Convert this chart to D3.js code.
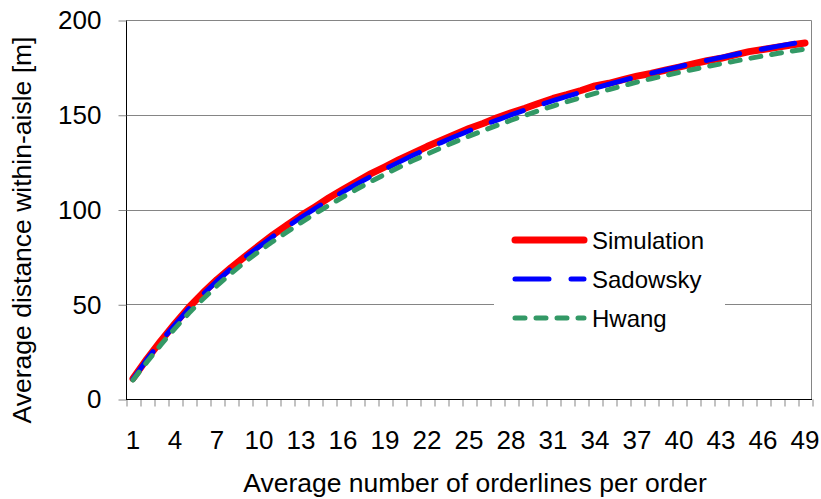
<!DOCTYPE html>
<html>
<head>
<meta charset="utf-8">
<script src="https://cdn.jsdelivr.net/npm/d3@7/dist/d3.min.js"></script>
<style>
  html, body { margin: 0; padding: 0; background: #fff; }
  svg { display: block; font-family: "Liberation Sans", Arial, sans-serif; }
</style>
</head>
<body>
<svg id="chart" width="821" height="499"></svg>
<script>
// Average number of orderlines per order
const orderlines = d3.range(1, 50);
// Every third category carries a label
const xTickLabels = [1, 4, 7, 10, 13, 16, 19, 22, 25, 28, 31, 34, 37, 40, 43, 46, 49];
const yTicks = [0, 50, 100, 150, 200];

// Average within-aisle distance [m]
const simulation = [10.8, 21.2, 30.8, 39.8, 48.4, 56.0, 63.0, 69.3, 75.2, 81.0,
  86.6, 91.8, 96.8, 101.4, 106.2, 110.6, 114.8, 118.9, 122.5, 126.3,
  129.7, 133.2, 136.4, 139.6, 142.7, 145.4, 148.4, 151.0, 153.4, 156.1,
  158.6, 160.6, 162.8, 165.2, 166.6, 168.5, 170.4, 171.8, 173.5, 175.1,
  176.8, 178.5, 179.8, 181.6, 183.3, 184.4, 185.6, 186.8, 187.9];
const sadowsky = [10.5, 20.9, 30.4, 39.3, 47.7, 55.3, 62.3, 68.8, 74.8, 80.4,
  85.8, 90.9, 95.8, 100.5, 105.0, 109.3, 113.5, 117.5, 121.3, 125.0,
  128.6, 132.0, 135.3, 138.5, 141.5, 144.4, 147.2, 149.9, 152.5, 155.0,
  157.4, 159.7, 161.9, 164.1, 166.1, 168.1, 170.0, 171.9, 173.7, 175.4,
  177.1, 178.7, 180.3, 181.8, 183.3, 184.7, 186.1, 187.4, 188.7];
const hwang = [10.0, 19.6, 28.7, 37.3, 45.4, 52.8, 59.8, 66.3, 72.3, 77.9,
  83.2, 88.2, 93.1, 97.8, 102.3, 106.6, 110.8, 114.8, 118.6, 122.3,
  125.8, 129.2, 132.5, 135.7, 138.7, 141.6, 144.4, 147.1, 149.7, 152.2,
  154.6, 156.9, 159.1, 161.3, 163.3, 165.3, 167.2, 169.0, 170.7, 172.3,
  173.9, 175.4, 176.9, 178.3, 179.7, 181.0, 182.3, 183.5, 184.7];

const seriesNames = ["Simulation", "Sadowsky", "Hwang"];
const seriesValues = [simulation, sadowsky, hwang];
const seriesStyle = [
  { color: "#FF0000", width: 7, dash: null },
  { color: "#0000FF", width: 5, dash: "34,22" },
  { color: "#339966", width: 5, dash: "10,11" }
];

const svg = d3.select("#chart");
const plotLeft = 126, plotRight = 812, plotTop = 20, plotBottom = 399;
const tickFont = 26, titleFont = 26.5, legendFont = 24;

const x = d3.scaleBand().domain(orderlines).range([plotLeft, plotRight]).paddingInner(0).paddingOuter(0);
const xEdges = d3.scaleLinear().domain([0, orderlines.length]).range([plotLeft, plotRight]);
const y = d3.scaleLinear().domain([0, 200]).range([plotBottom, plotTop]);
const gridColor = "#858585";

// Horizontal gridlines
svg.append("g")
  .selectAll("line")
  .data(yTicks.filter(d => d > 0))
  .join("line")
  .attr("x1", plotLeft).attr("x2", plotRight - 0.5)
  .attr("y1", d => Math.round(y(d)) + 0.5).attr("y2", d => Math.round(y(d)) + 0.5)
  .attr("stroke", gridColor).attr("stroke-width", 1);

// Right border of the plot area
svg.append("line")
  .attr("x1", plotRight - 0.5).attr("x2", plotRight - 0.5)
  .attr("y1", plotTop + 0.5).attr("y2", plotBottom + 0.5)
  .attr("stroke", gridColor).attr("stroke-width", 1);

// Y axis
const yAxis = svg.append("g")
  .attr("transform", `translate(${plotLeft + 0.5},0.5)`)
  .call(d3.axisLeft(y).tickValues(yTicks).tickSize(8).tickPadding(17).tickFormat(d3.format("d")));
yAxis.select(".domain").attr("stroke", "#000").attr("d", `M0,${plotTop}V${plotBottom}`);
yAxis.selectAll(".tick line").attr("stroke", gridColor);
yAxis.selectAll(".tick text").attr("font-size", tickFont).attr("fill", "#000")
  .attr("font-family", "Liberation Sans, Arial, sans-serif");

// X axis: tick marks on category boundaries
const xTickMarks = svg.append("g")
  .attr("transform", `translate(0.5,${plotBottom + 0.5})`)
  .call(d3.axisBottom(xEdges).tickValues(d3.range(0, orderlines.length + 1)).tickSize(7).tickFormat(""));
xTickMarks.select(".domain").remove();
xTickMarks.selectAll(".tick line").attr("stroke", gridColor);

// X axis: category labels
const xAxis = svg.append("g")
  .attr("transform", `translate(0,${plotBottom + 0.5})`)
  .call(d3.axisBottom(x).tickValues(xTickLabels).tickSize(0).tickPadding(31));
xAxis.select(".domain").attr("stroke", "#000").attr("d", `M${plotLeft},0H${plotRight}`);
xAxis.selectAll(".tick text").attr("font-size", tickFont).attr("fill", "#000")
  .attr("font-family", "Liberation Sans, Arial, sans-serif");

// Series lines
const line = d3.line()
  .x((d, i) => x(orderlines[i]) + x.bandwidth() / 2)
  .y(d => y(d));

seriesValues.forEach((vals, k) => {
  const s = seriesStyle[k];
  svg.append("path")
    .datum(vals)
    .attr("d", line)
    .attr("fill", "none")
    .attr("stroke", s.color)
    .attr("stroke-width", s.width)
    .attr("stroke-linecap", "round")
    .attr("stroke-linejoin", "round")
    .attr("stroke-dasharray", s.dash);
});

// Legend
const legend = svg.append("g");
legend.append("rect")
  .attr("x", 494).attr("y", 220).attr("width", 231).attr("height", 115)
  .attr("fill", "#fff");
const rowY = [240, 279, 318];
seriesNames.forEach((name, k) => {
  const s = seriesStyle[k];
  legend.append("line")
    .attr("x1", 515).attr("x2", 584)
    .attr("y1", rowY[k]).attr("y2", rowY[k])
    .attr("stroke", s.color).attr("stroke-width", s.width)
    .attr("stroke-linecap", "round")
    .attr("stroke-dasharray", s.dash);
  legend.append("text")
    .attr("x", 592).attr("y", rowY[k])
    .attr("dominant-baseline", "central")
    .attr("font-size", legendFont)
    .text(name);
});

// Axis titles
svg.append("text")
  .attr("x", 475).attr("y", 492)
  .attr("text-anchor", "middle")
  .attr("font-size", titleFont)
  .text("Average number of orderlines per order");

svg.append("text")
  .attr("transform", "translate(31,230) rotate(-90)")
  .attr("text-anchor", "middle")
  .attr("font-size", titleFont)
  .text("Average distance within-aisle [m]");
</script>
</body>
</html>
